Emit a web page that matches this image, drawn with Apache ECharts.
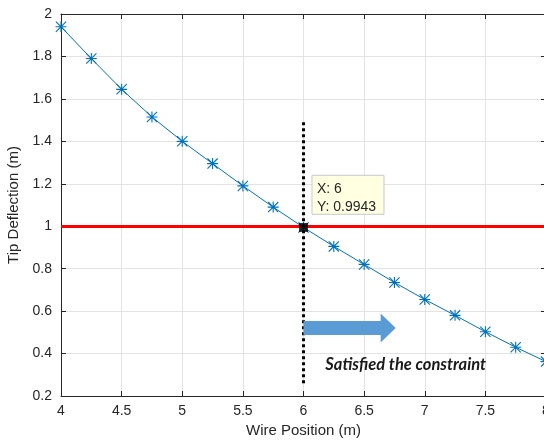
<!DOCTYPE html>
<html>
<head>
<meta charset="UTF-8">
<script src="https://cdn.jsdelivr.net/npm/echarts@6/dist/echarts.min.js"></script>
<style>
  body { margin: 0; background: #fff; }
  #chart { width: 544px; height: 444px; }
</style>
</head>
<body>
<div id="chart"></div>
<script>
// wire position (m) and tip deflection (m)
var wirePos = [4, 4.25, 4.5, 4.75, 5, 5.25, 5.5, 5.75, 6, 6.25, 6.5, 6.75, 7, 7.25, 7.5, 7.75, 8];
var tipDefl = [1.94, 1.79, 1.645, 1.515, 1.40, 1.295, 1.19, 1.09, 0.9943, 0.905, 0.82, 0.735, 0.655, 0.58, 0.503, 0.43, 0.362];
var constraintY = 1;
var cursorPoint = [6, 0.9943];
var cursorLine = [[6, 1.49], [6, 0.26]];

var chart = echarts.init(document.getElementById('chart'));
var font = 'Liberation Sans, Arial, sans-serif';
var axisColor = '#262626';

// asterisk marker like matlab '*'
var star = 'path://M0,4.5H10V5.5H0Z M4.5,0H5.5V10H4.5Z M0.7,0L10,9.3L9.3,10L0,0.7Z M9.3,0L10,0.7L0.7,10L0,9.3Z';

var option = {
  animation: false,
  grid: { left: 61, right: -2, top: 14, bottom: 48, outerBoundsMode: 'none' },
  xAxis: [{
    type: 'value', min: 4, max: 8, interval: 0.5,
    name: 'Wire Position (m)', nameLocation: 'middle', nameGap: 27,
    nameTextStyle: { fontFamily: font, fontSize: 15, color: axisColor },
    axisLine: { lineStyle: { color: axisColor } },
    axisTick: { inside: true, length: 5, lineStyle: { color: axisColor } },
    axisLabel: { fontFamily: font, fontSize: 14, color: axisColor, margin: 8 },
    splitLine: { lineStyle: { color: '#e3e3e3' } }
  }, {
    type: 'value', position: 'top', min: 4, max: 8, interval: 0.5,
    axisLine: { show: true, lineStyle: { color: axisColor } },
    axisTick: { show: true, inside: true, length: 5, lineStyle: { color: axisColor } },
    axisLabel: { show: false }, splitLine: { show: false }
  }],
  yAxis: [{
    type: 'value', min: 0.2, max: 2, interval: 0.2,
    name: 'Tip Deflection (m)', nameLocation: 'middle', nameGap: 37,
    nameTextStyle: { fontFamily: font, fontSize: 15, color: axisColor },
    axisLine: { show: true, lineStyle: { color: axisColor } },
    axisTick: { show: true, inside: true, length: 5, lineStyle: { color: axisColor } },
    axisLabel: { fontFamily: font, fontSize: 14, color: axisColor, margin: 9,
      formatter: function (v) { return +v.toFixed(1); } },
    splitLine: { lineStyle: { color: '#e3e3e3' } }
  }, {
    type: 'value', position: 'right', min: 0.2, max: 2, interval: 0.2,
    axisLine: { show: true, lineStyle: { color: axisColor } },
    axisTick: { show: true, inside: true, length: 5, lineStyle: { color: axisColor } },
    axisLabel: { show: false }, splitLine: { show: false }
  }],
  series: [{
    type: 'line',
    data: wirePos.map(function (x, i) { return [x, tipDefl[i]]; }),
    lineStyle: { color: '#0072bd', width: 1 },
    itemStyle: { color: '#0072bd' },
    symbol: star, symbolSize: 11,
    z: 3
  }, {
    type: 'line', data: [], silent: true,
    markLine: {
      silent: true, symbol: 'none', label: { show: false },
      data: [
        [{ coord: [4, constraintY] }, { coord: [8, constraintY] }]
      ],
      lineStyle: { color: '#ff0000', width: 3, type: 'solid' }
    },
    z: 2
  }, {
    type: 'line', data: [], silent: true,
    markLine: {
      silent: true, symbol: 'none', label: { show: false },
      data: [[{ coord: cursorLine[0] }, { coord: cursorLine[1] }]],
      lineStyle: { color: '#000', width: 3, type: [3, 3] }
    },
    z: 4
  }, {
    type: 'scatter', data: [cursorPoint],
    symbol: 'rect', symbolSize: 9,
    itemStyle: { color: '#000' },
    z: 5
  }]
};
chart.setOption(option);

function px(p) { return chart.convertToPixel({ gridIndex: 0 }, p); }

// annotations placed from data coordinates
var a0 = px([6.0, 0.52]);
var a1 = px([6.76, 0.52]);
var headX = a1[0] - 15;
var tipBox = px([6.07, 1.24]);
var note = px([6.18, 0.346]);

chart.setOption({
  graphic: [{
    type: 'polygon',
    shape: { points: [
      [a0[0], a0[1] - 7], [headX, a0[1] - 7], [headX, a0[1] - 14.5],
      [a1[0], a1[1]], [headX, a0[1] + 14.5], [headX, a0[1] + 7], [a0[0], a0[1] + 7]
    ] },
    style: { fill: '#5b9bd5' },
    z: 10
  }, {
    type: 'group', x: tipBox[0], y: tipBox[1], z: 10,
    children: [{
      type: 'rect', shape: { x: 0, y: 0, width: 72, height: 39 },
      style: { fill: '#ffffe1', stroke: '#c8c8c8', lineWidth: 1 }
    }, {
      type: 'text', x: 5, y: 7,
      style: { text: 'X: 6', font: '14px ' + font, fill: '#262626' }
    }, {
      type: 'text', x: 5, y: 25,
      style: { text: 'Y: 0.9943', font: '14px ' + font, fill: '#262626', textVerticalAlign: 'top' }
    }]
  }, {
    type: 'text', x: note[0], y: note[1], z: 10,
    style: { text: 'Satisfied the constraint', font: 'italic bold 16.5px Lato, sans-serif',
      fill: '#1a1a1a', textVerticalAlign: 'middle' }
  }]
});
</script>
</body>
</html>
